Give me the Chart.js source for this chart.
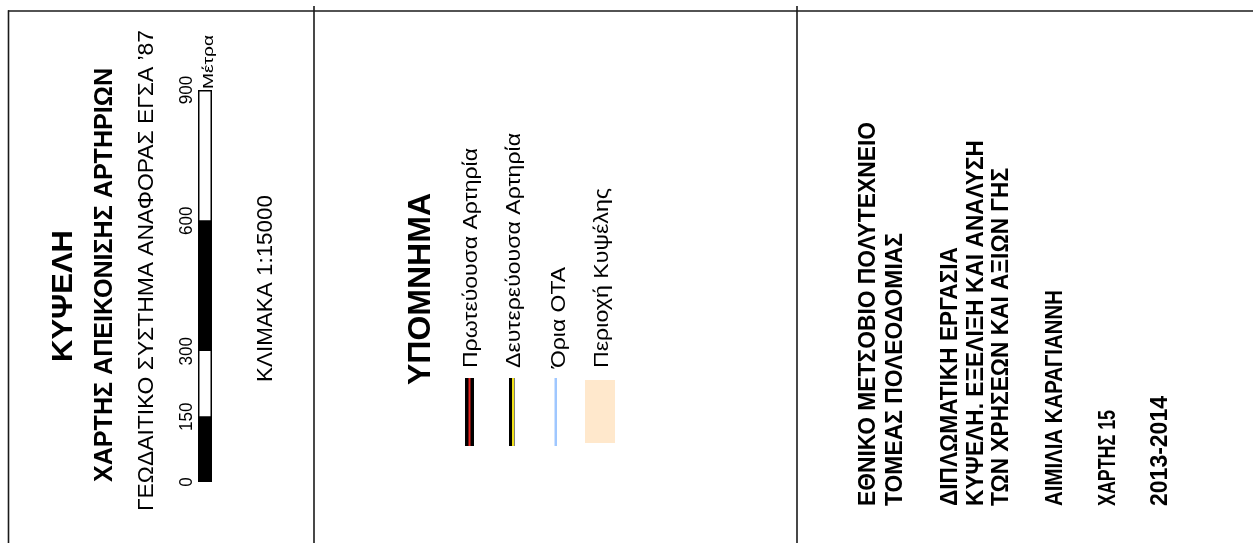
<!DOCTYPE html>
<html>
<head>
<meta charset="utf-8">
<script src="https://cdn.jsdelivr.net/npm/chart.js@4.4.1/dist/chart.umd.min.js"></script>
<style>
html,body{margin:0;padding:0;background:#fff;}
#c{display:block;}
</style>
</head>
<body>
<canvas id="c" width="1253" height="543"></canvas>
<script>
// ---- data ----
const scaleTicks = [0, 150, 300, 600, 900];          // tick labels of the scale bar (metres)
const segmentLengths = [150, 150, 300, 300];          // alternating bar segments
const segmentColors = ['#000000', '#ffffff', '#000000', '#ffffff'];
const scaleUnit = 'Μέτρα';
const titleMain = 'ΚΥΨΕΛΗ';
const titleSub = 'ΧΑΡΤΗΣ ΑΠΕΙΚΟΝΙΣΗΣ ΑΡΤΗΡΙΩΝ';
const titleRef = 'ΓΕΩΔΑΙΤΙΚΟ ΣΥΣΤΗΜΑ ΑΝΑΦΟΡΑΣ ΕΓΣΑ \u201987';
const scaleText = 'ΚΛΙΜΑΚΑ 1:15000';
const legendTitle = 'ΥΠΟΜΝΗΜΑ';
const legendLabels = ['Πρωτεύουσα Αρτηρία', 'Δευτερεύουσα Αρτηρία', 'Όρια ΟΤΑ', 'Περιοχή Κυψέλης'];
const infoLines = ['ΕΘΝΙΚΟ ΜΕΤΣΟΒΙΟ ΠΟΛΥΤΕΧΝΕΙΟ', 'ΤΟΜΕΑΣ ΠΟΛΕΟΔΟΜΙΑΣ', 'ΔΙΠΛΩΜΑΤΙΚΗ ΕΡΓΑΣΙΑ',
  'ΚΥΨΕΛΗ. ΕΞΕΛΙΞΗ ΚΑΙ ΑΝΑΛΥΣΗ', 'ΤΩΝ ΧΡΗΣΕΩΝ ΚΑΙ ΑΞΙΩΝ ΓΗΣ', 'ΑΙΜΙΛΙΑ ΚΑΡΑΓΙΑΝΝΗ', 'ΧΑΡΤΗΣ 15', '2013-2014'];

const FAM = '"Liberation Sans", Arial, sans-serif';

function vtext(ctx, str, xBase, yBottom, yTop, font) {
  ctx.save();
  ctx.font = font;
  ctx.fillStyle = '#000';
  ctx.textAlign = 'left';
  ctx.textBaseline = 'alphabetic';
  const w = ctx.measureText(str).width;
  ctx.translate(xBase, yBottom);
  ctx.rotate(-Math.PI / 2);
  ctx.scale((yBottom - yTop) / w, 1);
  ctx.fillText(str, 0, 0);
  ctx.restore();
}
function line(ctx, x1, y1, x2, y2, w, c) {
  ctx.save(); ctx.strokeStyle = c; ctx.lineWidth = w;
  ctx.beginPath(); ctx.moveTo(x1, y1); ctx.lineTo(x2, y2); ctx.stroke(); ctx.restore();
}

const decor = {
  id: 'decor',
  afterDraw(chart) {
    const ctx = chart.ctx;
    const ys = chart.scales.y;
    const ca = chart.chartArea;
    // frame lines
    line(ctx, 8, 11, 1253, 11, 1.6, '#1a1a1a');
    line(ctx, 8.5, 10.2, 8.5, 543, 1.6, '#1a1a1a');
    line(ctx, 314, 6, 314, 543, 1.6, '#1a1a1a');
    line(ctx, 797, 6, 797, 543, 1.6, '#1a1a1a');
    // outline of scale bar
    ctx.save(); ctx.strokeStyle = '#000'; ctx.lineWidth = 1.5;
    ctx.strokeRect(ca.left + 0.75, ca.top + 0.75, ca.right - ca.left - 1.5, ca.bottom - ca.top - 1.5);
    ctx.restore();
    // left panel texts
    vtext(ctx, titleMain, 72, 362, 230, 'bold 30px ' + FAM);
    vtext(ctx, titleSub, 112, 482, 68, 'bold 25px ' + FAM);
    vtext(ctx, titleRef, 153, 511, 30, '22px ' + FAM);
    // scale tick labels
    ctx.save();
    ctx.font = '19px ' + FAM; ctx.fillStyle = '#000';
    ctx.textAlign = 'center'; ctx.textBaseline = 'alphabetic';
    scaleTicks.forEach(v => {
      const y = ys.getPixelForValue(v);
      ctx.save(); ctx.translate(192, y); ctx.rotate(-Math.PI / 2);
      ctx.scale(0.9, 1);
      ctx.fillText(String(v), 0, 0); ctx.restore();
    });
    ctx.restore();
    vtext(ctx, scaleUnit, 213, ca.top - 1, 35, '15px ' + FAM);
    vtext(ctx, scaleText, 272, 382, 195, '22px ' + FAM);
    // legend
    vtext(ctx, legendTitle, 430, 385, 193, 'bold 32px ' + FAM);
    const lb = [[477, 148], [520, 133], [565, 267], [608, 188]];
    legendLabels.forEach((t, i) => vtext(ctx, t, lb[i][0], 368, lb[i][1], '21px ' + FAM));
    // legend symbols
    ctx.save();
    ctx.fillStyle = '#000'; ctx.fillRect(465, 378, 9, 68);
    ctx.fillStyle = '#e8231f'; ctx.fillRect(468.5, 378, 2, 68);
    ctx.fillStyle = '#000'; ctx.fillRect(509, 378, 5.5, 68);
    ctx.fillStyle = '#f2e21a'; ctx.fillRect(512, 378, 2, 68);
    ctx.fillStyle = '#9fc7ff'; ctx.fillRect(554.5, 378, 2.5, 68);
    ctx.fillStyle = '#ffe8cc'; ctx.fillRect(585, 380, 30, 63);
    ctx.restore();
    // right panel
    const info = [[875, 122], [902, 233], [957, 247], [983, 140], [1008, 168], [1062, 290], [1115, 410], [1167, 396]];
    infoLines.forEach((t, i) => vtext(ctx, t, info[i][0], 506, info[i][1], 'bold 24px ' + FAM));
  }
};

new Chart(document.getElementById('c'), {
  type: 'bar',
  data: {
    labels: [''],
    datasets: segmentLengths.map((v, i) => ({
      data: [v],
      backgroundColor: segmentColors[i],
      borderColor: '#000',
      borderWidth: 0,
      barPercentage: 1,
      categoryPercentage: 1
    }))
  },
  options: {
    responsive: false,
    animation: false,
    devicePixelRatio: 1,
    layout: { padding: { left: 198, right: 1253 - 212, top: 90, bottom: 543 - 482 } },
    plugins: { legend: { display: false }, tooltip: { enabled: false }, title: { display: false } },
    scales: {
      x: { stacked: true, display: false },
      y: { stacked: true, display: false, min: scaleTicks[0], max: scaleTicks[scaleTicks.length - 1] }
    }
  },
  plugins: [decor]
});
</script>
</body>
</html>
